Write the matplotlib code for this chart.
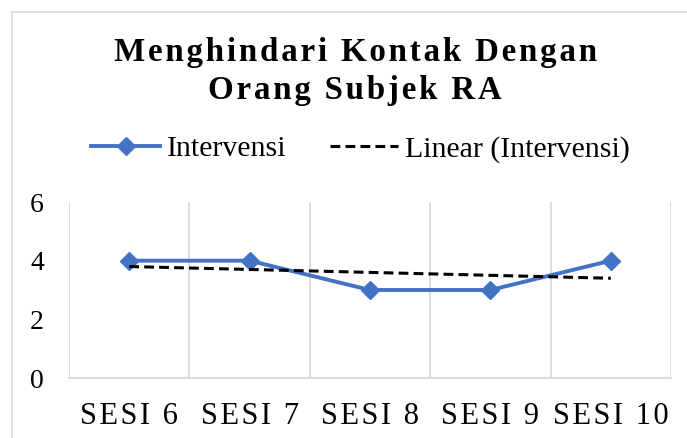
import matplotlib
matplotlib.use("Agg")
import matplotlib.pyplot as plt
from matplotlib.patches import Rectangle
from matplotlib.lines import Line2D

categories = ["SESI 6", "SESI 7", "SESI 8", "SESI 9", "SESI 10"]
intervensi = [4, 4, 3, 3, 4]
trend_linear = [3.8, 3.7, 3.6, 3.5, 3.4]
yticks = [0, 2, 4, 6]
title_lines = ["Menghindari Kontak Dengan", "Orang Subjek RA"]

HS = "\u200a"
def spaced(s, n=1):
    return (HS * n).join(list(s))

plt.rcParams['font.family'] = ['Liberation Serif', 'DejaVu Serif']

fig = plt.figure(figsize=(6.87, 4.38), dpi=100)
fig.patch.set_facecolor("white")
fig.patches.append(Rectangle((12/687, -0.1), 1.2, 1.1 - 12/438, transform=fig.transFigure,
                             fill=False, edgecolor="#D9D9D9", linewidth=1.2))

ax = fig.add_axes([69/687, 1 - 378/438, (671 - 69)/687, (378 - 202)/438])
x = list(range(len(categories)))

DASH = (0, (3.2, 1.7))
ax.plot(x, intervensi, color="#4472C4", linewidth=2.8, marker="D", markersize=8.8,
        zorder=3, solid_capstyle="round")
ax.plot(x, trend_linear, color="black", linewidth=2.2, linestyle=DASH, zorder=4)

ax.set_xlim(-0.5, len(categories) - 0.5)
ax.set_ylim(0, 6)
ax.set_yticks(yticks)
ax.set_yticklabels([str(v) for v in yticks], fontsize=20)
ax.set_xticks(x)
ax.set_xticklabels([spaced(c, 1) for c in categories], fontsize=22)
ax.tick_params(axis="both", length=0)
ax.tick_params(axis="y", pad=18)
ax.tick_params(axis="x", pad=17)

for b in [i - 0.5 for i in range(len(categories) + 1)]:
    ax.axvline(b, color="#D9D9D9", linewidth=1.3, zorder=1)
for s in ["top", "right", "left"]:
    ax.spines[s].set_visible(False)
ax.spines["bottom"].set_color("#D9D9D9")
ax.spines["bottom"].set_linewidth(1.3)

fig.text(0.517, 1 - 61/438, spaced(title_lines[0]), ha="center", va="baseline",
         fontsize=23.8, fontweight="bold")
fig.text(0.517, 1 - 99/438, spaced(title_lines[1]), ha="center", va="baseline",
         fontsize=23.8, fontweight="bold")

handles = [
    Line2D([], [], color="#4472C4", linewidth=2.8, marker="D", markersize=8.8),
    Line2D([], [], color="black", linewidth=2.2, linestyle=DASH),
]
fig.legend(handles, ["Intervensi", "Linear (Intervensi)"], loc="center",
           bbox_to_anchor=(0.525, 1 - 149/438), ncol=2, frameon=False,
           fontsize=21.5, handlelength=2.3, handletextpad=0.23, columnspacing=1.45)

fig.savefig("out.png", dpi=100, facecolor="white")
